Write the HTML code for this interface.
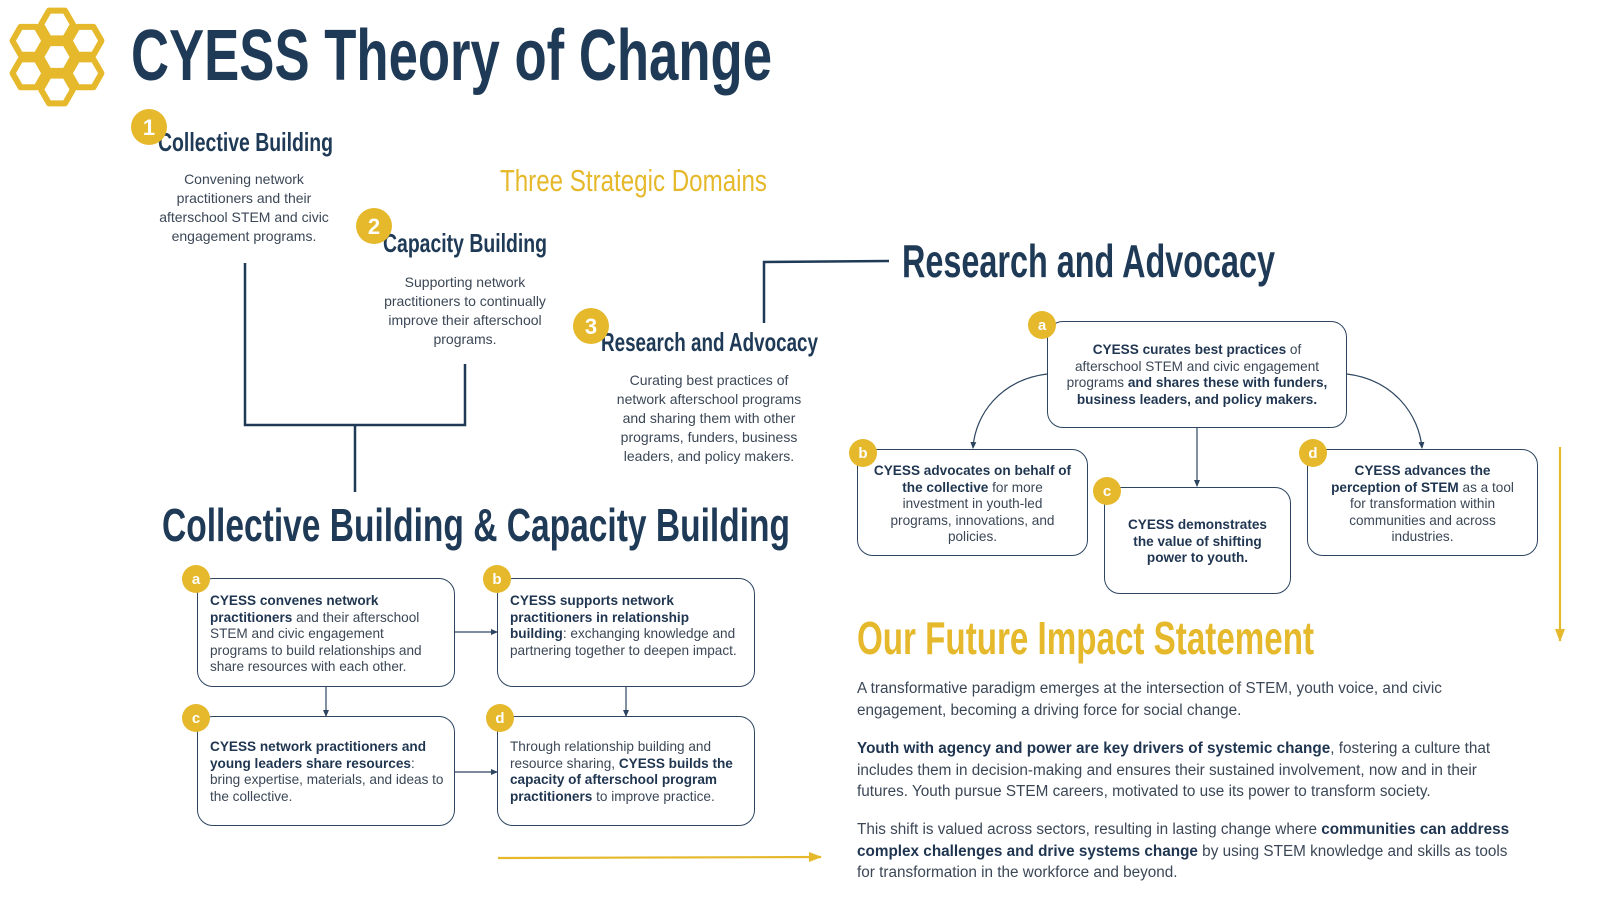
<!DOCTYPE html>
<html><head><meta charset="utf-8">
<style>
*{margin:0;padding:0;box-sizing:border-box}
body{width:1600px;height:900px;background:#fff;position:relative;overflow:hidden;font-family:"Liberation Sans",sans-serif;color:#3b4756}
svg{position:absolute;left:0;top:0}
.d{position:absolute;text-align:center;font-size:14px;line-height:19px;color:#3b4756}
.bx{position:absolute;border:1.3px solid #2d4560;border-radius:16px;background:#fff;font-size:13.6px;line-height:16.6px;color:#3b4756}
.bx b{color:#1f3550}
.p{position:absolute;left:857px;width:655px;font-size:15.3px;line-height:21.6px;color:#3b4756}
.p b{color:#1f3550}
</style></head><body>
<svg width="1600" height="900" viewBox="0 0 1600 900">
<defs>
<marker id="ah" markerWidth="8" markerHeight="8" refX="6" refY="4" orient="auto" markerUnits="userSpaceOnUse"><path d="M0,1 L7,4 L0,7 Z" fill="#2d4560"/></marker>
<marker id="ag" markerWidth="14" markerHeight="14" refX="12" refY="7" orient="auto" markerUnits="userSpaceOnUse"><path d="M0,2 L13,7 L0,12 Z" fill="#e5b92b"/></marker>
<polygon id="hx" points="16,0 8,13.9 -8,13.9 -16,0 -8,-13.9 8,-13.9"/>
</defs>
<!-- logo -->
<g fill="none" stroke="#e5b92b" stroke-width="6" stroke-linejoin="round">
<use href="#hx" x="57" y="24.5"/><use href="#hx" x="57" y="57"/><use href="#hx" x="57" y="89.5"/>
<use href="#hx" x="28.5" y="40.8"/><use href="#hx" x="28.5" y="73.3"/>
<use href="#hx" x="85.5" y="40.8"/><use href="#hx" x="85.5" y="73.3"/>
</g>
<g font-family="Liberation Sans" font-weight="bold" fill="#1f3a56">
<text x="131" y="80" font-size="72" textLength="641" lengthAdjust="spacingAndGlyphs">CYESS Theory of Change</text>
<text x="158" y="151" font-size="26" textLength="175" lengthAdjust="spacingAndGlyphs">Collective Building</text>
<text x="383" y="252" font-size="26" textLength="164" lengthAdjust="spacingAndGlyphs">Capacity Building</text>
<text x="601" y="351" font-size="26" textLength="217" lengthAdjust="spacingAndGlyphs">Research and Advocacy</text>
<text x="902" y="277" font-size="46" textLength="373" lengthAdjust="spacingAndGlyphs">Research and Advocacy</text>
<text x="162" y="541" font-size="46" textLength="628" lengthAdjust="spacingAndGlyphs">Collective Building &amp; Capacity Building</text>
<text x="857" y="654" font-size="46" fill="#e5b92b" textLength="457" lengthAdjust="spacingAndGlyphs">Our Future Impact Statement</text>
</g>
<text x="500" y="191" font-family="Liberation Sans" font-size="31" fill="#e5b92b" textLength="267" lengthAdjust="spacingAndGlyphs">Three Strategic Domains</text>
<g fill="#e5b92b">
<circle cx="149" cy="127" r="18"/><circle cx="374" cy="226" r="18"/><circle cx="591" cy="326" r="18"/>
</g>
<g font-family="Liberation Sans" font-weight="bold" font-size="22" fill="#fff" text-anchor="middle">
<text x="149" y="135">1</text><text x="374" y="234">2</text><text x="591" y="334">3</text>
</g>
<g fill="none" stroke="#1f3a56" stroke-width="2.5">
<polyline points="245,263 245,425 465,425 465,364"/>
<line x1="355" y1="425" x2="355" y2="492"/>
<polyline points="764,323 764,262 889,261"/>
</g>
<g fill="none" stroke="#2d4560" stroke-width="1.2">
<line x1="1197" y1="428" x2="1197" y2="486" marker-end="url(#ah)"/>
<path d="M1047,374 C1000,380 975,415 973,448" marker-end="url(#ah)"/>
<path d="M1347,374 C1394,380 1419,415 1422,448" marker-end="url(#ah)"/>
<line x1="455" y1="632" x2="497" y2="632" marker-end="url(#ah)"/>
<line x1="326" y1="687" x2="326" y2="716" marker-end="url(#ah)"/>
<line x1="626" y1="687" x2="626" y2="716" marker-end="url(#ah)"/>
<line x1="455" y1="772" x2="497" y2="772" marker-end="url(#ah)"/>
</g>
<g stroke="#e5b92b" stroke-width="2.2" fill="none">
<line x1="1560" y1="447" x2="1560" y2="641" marker-end="url(#ag)"/>
<line x1="498" y1="858" x2="821" y2="857" marker-end="url(#ag)"/>
</g>
</svg>

<div class="d" style="left:154px;top:170px;width:180px">Convening network practitioners and their afterschool STEM and civic engagement programs.</div>
<div class="d" style="left:375px;top:273px;width:180px">Supporting network practitioners to continually improve their afterschool programs.</div>
<div class="d" style="left:609px;top:371px;width:200px">Curating best practices of network afterschool programs and sharing them with other programs, funders, business leaders, and policy makers.</div>

<div class="bx" style="left:1047px;top:321px;width:300px;height:107px;text-align:center;padding:20px 16px 0"><b>CYESS curates best practices</b> of afterschool STEM and civic engagement programs <b>and shares these with funders, business leaders, and policy makers.</b></div>
<div class="bx" style="left:857px;top:449px;width:231px;height:107px;text-align:center;padding:13px 14px 0"><b>CYESS advocates on behalf of the collective</b> for more investment in youth-led programs, innovations, and policies.</div>
<div class="bx" style="left:1104px;top:487px;width:187px;height:107px;text-align:center;padding:29px 18px 0"><b>CYESS demonstrates the value of shifting power to youth.</b></div>
<div class="bx" style="left:1307px;top:449px;width:231px;height:107px;text-align:center;padding:13px 18px 0"><b>CYESS advances the perception of STEM</b> as a tool for transformation within communities and across industries.</div>

<div class="bx" style="left:197px;top:578px;width:258px;height:109px;padding:14px 10px 0 12px"><b>CYESS convenes network practitioners</b> and their afterschool STEM and civic engagement programs to build relationships and share resources with each other.</div>
<div class="bx" style="left:497px;top:578px;width:258px;height:109px;padding:14px 12px 0 12px"><b>CYESS supports network practitioners in relationship building</b>: exchanging knowledge and partnering together to deepen impact.</div>
<div class="bx" style="left:197px;top:716px;width:258px;height:110px;padding:22px 10px 0 12px"><b>CYESS network practitioners and young leaders share resources</b>: bring expertise, materials, and ideas to the collective.</div>
<div class="bx" style="left:497px;top:716px;width:258px;height:110px;padding:22px 10px 0 12px">Through relationship building and resource sharing, <b>CYESS builds the capacity of afterschool program practitioners</b> to improve practice.</div>

<svg width="1600" height="900" viewBox="0 0 1600 900" style="pointer-events:none">
<g fill="#e5b92b">
<circle cx="1042" cy="325" r="14"/><circle cx="863" cy="453" r="14"/><circle cx="1107" cy="491" r="14"/><circle cx="1313" cy="453" r="14"/>
<circle cx="196" cy="579" r="14"/><circle cx="497" cy="579" r="14"/><circle cx="196" cy="718" r="14"/><circle cx="500" cy="718" r="14"/>
</g>
<g font-family="Liberation Sans" font-weight="bold" font-size="15" fill="#fff" text-anchor="middle">
<text x="1042" y="330">a</text><text x="863" y="458">b</text><text x="1107" y="496">c</text><text x="1313" y="458">d</text>
<text x="196" y="584">a</text><text x="497" y="584">b</text><text x="196" y="723">c</text><text x="500" y="723">d</text>
</g>
</svg>

<div class="p" style="top:678px">A transformative paradigm emerges at the intersection of STEM, youth voice, and civic engagement, becoming a driving force for social change.</div>
<div class="p" style="top:738px"><b>Youth with agency and power are key drivers of systemic change</b>, fostering a culture that includes them in decision-making and ensures their sustained involvement, now and in their futures. Youth pursue STEM careers, motivated to use its power to transform society.</div>
<div class="p" style="top:819px">This shift is valued across sectors, resulting in lasting change where <b>communities can address complex challenges and drive systems change</b> by using STEM knowledge and skills as tools for transformation in the workforce and beyond.</div>
</body></html>
